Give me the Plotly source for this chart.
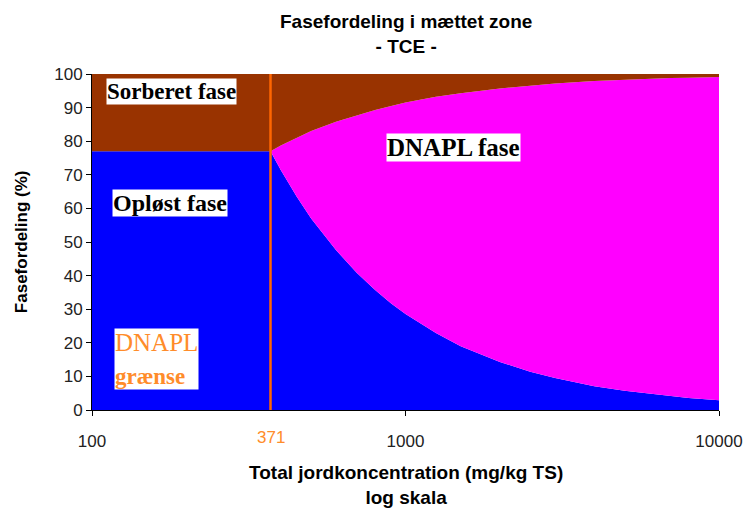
import plotly.graph_objects as go

# Total soil concentration (mg/kg TS)
konc = [100, 371, 400, 450, 500, 600, 700, 800, 900, 1000, 1250, 1500,
        2000, 2500, 3000, 4000, 5000, 6000, 7000, 8000, 10000]
# Phase distribution (%)
oploest = [77.0, 77.0, 71.4, 63.5, 57.0, 47.6, 40.8, 35.7, 31.7, 28.6, 22.9, 19.0,
           14.3, 11.4, 9.5, 7.1, 5.7, 4.8, 4.1, 3.6, 2.9]
sorberet = [23.0, 23.0, 21.3, 19.0, 17.0, 14.2, 12.2, 10.7, 9.5, 8.5, 6.8, 5.7,
            4.3, 3.4, 2.8, 2.1, 1.7, 1.4, 1.2, 1.1, 0.9]
dnapl = [round(100 - o - s, 1) for o, s in zip(oploest, sorberet)]

dnapl_graense = 371
x_ticks = [100, 1000, 10000]
x_ticktext = ["100", "1000", "10000"]

BLUE = "#0000FF"
MAGENTA = "#FF00FF"
BROWN = "#993300"
ORANGE = "#FF6600"
LABEL_ORANGE = "#FF8C2A"

fig = go.Figure()
for name, vals, col in [("Opløst fase", oploest, BLUE),
                        ("DNAPL fase", dnapl, MAGENTA),
                        ("Sorberet fase", sorberet, BROWN)]:
    fig.add_trace(go.Scatter(
        x=konc, y=vals, name=name, mode="lines", stackgroup="fase",
        line=dict(width=0, color=col), fillcolor=col, hoverinfo="x+y+name",
    ))

# DNAPL limit line
fig.add_trace(go.Scatter(
    x=[dnapl_graense, dnapl_graense], y=[0, 100], mode="lines",
    line=dict(color=ORANGE, width=2.5), hoverinfo="skip", showlegend=False,
))

serif = "Liberation Serif"
sans = "Liberation Sans"

def box_label(text, x, y, size, color="black", align="center"):
    fig.add_annotation(
        text=text, x=x, y=y, xref="paper", yref="paper", showarrow=False,
        xanchor="center", yanchor="middle", align=align,
        font=dict(family=serif, size=size, color=color),
        bgcolor="white", borderpad=0,
    )

box_label("<b>Sorberet fase</b>", 0.126, 0.948, 23)
box_label("<b>Opløst fase</b>", 0.125, 0.616, 24)
box_label("<b>DNAPL fase</b>", 0.576, 0.781, 25)
box_label("DNAPL<br><b><span style='font-size:23px'>grænse</span></b>",
          0.103, 0.152, 25, LABEL_ORANGE, align="left")

# Orange tick label for the limit
fig.add_annotation(
    text=str(dnapl_graense), x=2.5694, y=-0.0833, xref="x", yref="paper",
    xanchor="center", yanchor="middle", showarrow=False,
    font=dict(family=sans, size=17, color=LABEL_ORANGE),
)

# Titles
fig.add_annotation(
    text="<b>Fasefordeling i mættet zone<br>- TCE -</b>",
    x=0.5, y=1.1176, xref="paper", yref="paper", showarrow=False,
    xanchor="center", yanchor="middle",
    font=dict(family=sans, size=19, color="black"),
)
fig.add_annotation(
    text="<b>Total jordkoncentration (mg/kg TS)<br>log skala</b>",
    x=0.5, y=-0.2247, xref="paper", yref="paper", showarrow=False,
    xanchor="center", yanchor="middle",
    font=dict(family=sans, size=19, color="black"),
)
fig.add_annotation(
    text="<b>Fasefordeling (%)</b>", textangle=-90,
    x=-0.113, y=0.5, xref="paper", yref="paper", showarrow=False,
    xanchor="center", yanchor="middle",
    font=dict(family=sans, size=17, color="black"),
)

fig.update_layout(
    width=755, height=515,
    margin=dict(l=92, r=29, t=74, b=105),
    paper_bgcolor="white", plot_bgcolor="white",
    showlegend=False,
    font=dict(family=sans, size=17, color="#222222"),
)
fig.update_xaxes(
    type="log", range=[2, 4], tickvals=x_ticks, ticktext=x_ticktext,
    ticks="outside", ticklen=5, tickcolor="black", ticklabelstandoff=11,
    showline=True, linecolor="black", linewidth=1, showgrid=False, zeroline=False,
)
fig.update_yaxes(
    range=[0, 100], dtick=10, ticks="outside", ticklen=5, tickcolor="black",
    showline=True, linecolor="black", linewidth=1, showgrid=False, zeroline=False,
)

fig.write_html("out.html")
